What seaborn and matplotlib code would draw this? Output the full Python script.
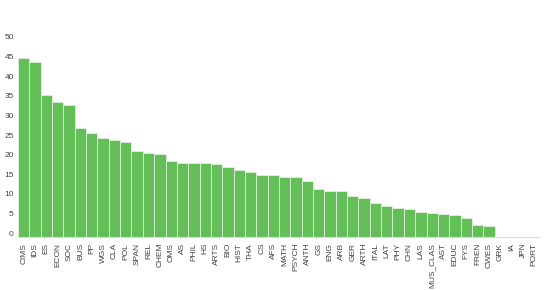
import matplotlib
matplotlib.use("Agg")
import matplotlib.pyplot as plt
import matplotlib.transforms as mtransforms
import seaborn as sns
import pandas as pd

categories = ["CIMS", "IDS", "ES", "ECON", "SOC", "BUS", "PP", "WGS", "CLA", "POL",
              "SPAN", "REL", "CHEM", "OMS", "AS", "PHIL", "HS", "ARTS", "BIO", "HIST",
              "THA", "CS", "AFS", "MATH", "PSYCH", "ANTH", "GS", "ENG", "ARB", "GER",
              "ARTH", "ITAL", "LAT", "PHY", "CHN", "LAS", "MUS_CLAS", "AST", "EDUC", "FYS",
              "FREN", "CWES", "GRK", "IA", "JPN", "PORT"]
values = [45.5, 44.7, 36.3, 34.5, 33.7, 27.9, 26.5, 25.2, 24.8, 24.2,
          21.9, 21.4, 21.3, 19.4, 18.8, 18.8, 18.8, 18.7, 17.8, 17.2,
          16.6, 15.9, 15.9, 15.3, 15.3, 14.4, 12.2, 11.9, 11.8, 10.6,
          9.9, 8.6, 8.0, 7.5, 7.3, 6.4, 6.3, 5.9, 5.8, 4.9,
          3.1, 2.9, 0, 0, 0, 0]
yticks = [0, 5, 10, 15, 20, 25, 30, 35, 40, 45, 50]

df = pd.DataFrame({"cat": categories, "val": values})

sns.set_style("white")
plt.rcParams["font.family"] = ["Liberation Sans", "DejaVu Sans"]

fig = plt.figure(figsize=(5.48, 2.90), dpi=100)
ax = fig.add_axes([18 / 548, 1 - 237.3 / 290, (540 - 18) / 548, (237.3 - 32.9) / 290])

sns.barplot(data=df, x="cat", y="val", color="#64bf59", saturation=1, width=1.0,
            edgecolor="#e8f5e6", linewidth=0.5, ax=ax)

ax.set_xlim(-0.5, len(categories) - 0.5)
ax.set_ylim(0, 52)
ax.set_yticks(yticks)
ax.set_yticklabels([str(t) for t in yticks])
ax.set_xlabel("")
ax.set_ylabel("")

for s in ["top", "right", "left"]:
    ax.spines[s].set_visible(False)
ax.spines["bottom"].set_color("#dddddd")
ax.spines["bottom"].set_linewidth(0.8)

ax.tick_params(axis="both", length=0, labelsize=6, colors="#444444")
ax.tick_params(axis="y", pad=3)
ax.tick_params(axis="x", pad=4)
plt.setp(ax.get_xticklabels(), rotation=90)

offset = mtransforms.ScaledTranslation(0, 4 / 100, fig.dpi_scale_trans)
for lab in ax.get_yticklabels():
    lab.set_transform(lab.get_transform() + offset)

fig.savefig("out.png", dpi=100)
